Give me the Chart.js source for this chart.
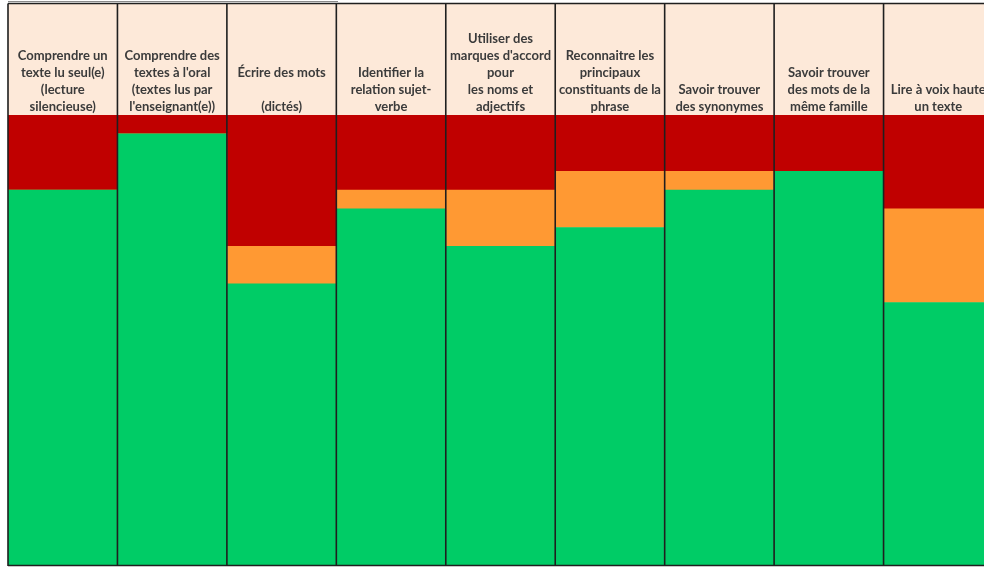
<!DOCTYPE html>
<html>
<head>
<meta charset="utf-8">
<script src="https://cdn.jsdelivr.net/npm/chart.js@4"></script>
<style>
  html, body { margin: 0; padding: 0; background: #ffffff; overflow: hidden; }
  #wrap { width: 1000px; height: 567px; }
</style>
</head>
<body>
<div id="wrap"><canvas id="c" width="1000" height="567"></canvas></div>
<script>
// Categories (header labels, one array of lines per column)
const categories = [
  ["Comprendre un", "texte lu seul(e)", "(lecture", "silencieuse)"],
  ["Comprendre des", "textes à l'oral", "(textes lus par", "l'enseignant(e))"],
  ["Écrire des mots", "", "(dictés)"],
  ["Identifier la", "relation sujet-", "verbe"],
  ["Utiliser des", "marques d'accord", "pour", "les noms et", "adjectifs"],
  ["Reconnaitre les", "principaux", "constituants de la", "phrase"],
  ["Savoir trouver", "des synonymes"],
  ["Savoir trouver", "des mots de la", "même famille"],
  ["Lire à voix haute", "un texte"]
];
// Number of pupils per level (out of 24)
const reussite = [20, 23, 15, 19, 17, 18, 20, 21, 14];   // green
const fragile  = [0, 0, 2, 1, 3, 3, 1, 0, 5];             // orange
const echec    = [4, 1, 7, 4, 4, 3, 3, 3, 5];             // red

const tableLines = {
  id: 'tableLines',
  beforeDraw(chart) {
    const ctx = chart.ctx;
    const ca = chart.chartArea;
    ctx.save();
    ctx.fillStyle = '#FDE9D9';
    ctx.fillRect(ca.left, 4, ca.right - ca.left, ca.top - 4);
    ctx.restore();
  },
  afterDatasetsDraw(chart) {
    const ctx = chart.ctx;
    const ca = chart.chartArea;
    const xs = chart.scales.x;
    const n = categories.length;
    ctx.save();
    ctx.strokeStyle = '#8a8a8a';
    ctx.lineWidth = 1;
    ctx.beginPath();
    ctx.moveTo(ca.left, 1.5);
    ctx.lineTo(338, 1.5);
    ctx.stroke();
    ctx.strokeStyle = '#1f1f1f';
    ctx.lineWidth = 1.6;
    ctx.beginPath();
    for (let i = 0; i <= n; i++) {
      let x;
      if (i === 0) x = ca.left;
      else if (i === n) x = ca.right;
      else x = (xs.getPixelForValue(i - 1) + xs.getPixelForValue(i)) / 2;
      ctx.moveTo(x, 3.5);
      ctx.lineTo(x, ca.bottom + 1);
    }
    ctx.moveTo(ca.left, 3.5);
    ctx.lineTo(ca.right, 3.5);
    ctx.moveTo(ca.left, ca.bottom + 0.5);
    ctx.lineTo(ca.right, ca.bottom + 0.5);
    ctx.stroke();
    ctx.restore();
  }
};

new Chart(document.getElementById('c'), {
  type: 'bar',
  data: {
    labels: categories,
    datasets: [
      { label: 'Réussite', data: reussite, backgroundColor: '#00CC66' },
      { label: 'Fragile', data: fragile, backgroundColor: '#FF9933' },
      { label: 'Difficulté', data: echec, backgroundColor: '#C00000' }
    ]
  },
  options: {
    responsive: false,
    animation: false,
    events: [],
    layout: { padding: { left: 8, right: 7, top: 4, bottom: 2 } },
    datasets: { bar: { barPercentage: 1, categoryPercentage: 1, borderWidth: 0 } },
    plugins: { legend: { display: false }, tooltip: { enabled: false }, title: { display: false } },
    scales: {
      x: {
        position: 'top',
        stacked: true,
        grid: { display: false, drawTicks: false },
        border: { display: false },
        ticks: {
          autoSkip: false,
          maxRotation: 0,
          minRotation: 0,
          padding: 0,
          color: '#3b3b3b',
          font: { family: 'Lato', size: 13, weight: 'bold', lineHeight: '17px' }
        },
        afterFit(scale) { scale.height = 111; }
      },
      y: {
        display: false,
        stacked: true,
        min: 0,
        max: 24
      }
    }
  },
  plugins: [tableLines]
});
</script>
</body>
</html>
